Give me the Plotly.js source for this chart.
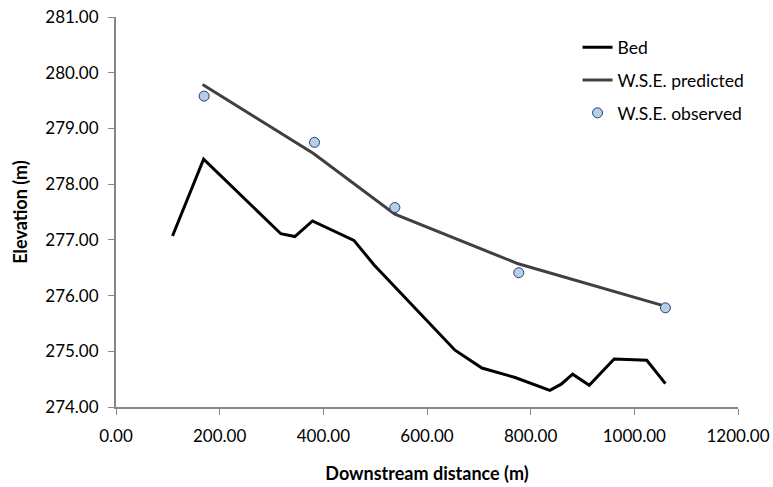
<!DOCTYPE html>
<html>
<head>
<meta charset="utf-8">
<script src="https://cdn.plot.ly/plotly-3.0.1.min.js"></script>
<style>html,body{margin:0;padding:0;background:#fff}#chart{width:773px;height:487px}</style>
</head>
<body>
<div id="chart"></div>
<script>
var bedX = [109, 169, 318, 345, 379, 459, 498, 654, 706, 770, 837, 859, 881, 913, 961, 1024, 1060];
var bedY = [277.07, 278.45, 277.11, 277.06, 277.34, 276.99, 276.55, 275.02, 274.70, 274.53, 274.30, 274.41, 274.59, 274.39, 274.86, 274.84, 274.42];
var predX = [167, 381, 538, 776, 1059];
var predY = [279.79, 278.55, 277.46, 276.57, 275.81];
var obsX = [170, 383, 538, 777, 1060];
var obsY = [279.58, 278.75, 277.58, 276.41, 275.78];
var xTicks = [0, 200, 400, 600, 800, 1000, 1200];
var yTicks = [274, 275, 276, 277, 278, 279, 280, 281];

var font = "Lato, 'Open Sans', sans-serif";
var traces = [
  {x: bedX, y: bedY, mode: 'lines', name: 'Bed', legendgroup: 'a',
   line: {color: '#000000', width: 3}},
  {x: predX, y: predY, mode: 'lines', name: 'W.S.E. predicted', legendgroup: 'b',
   line: {color: '#404040', width: 3}},
  {x: obsX, y: obsY, mode: 'markers', name: 'W.S.E. observed', legendgroup: 'c',
   marker: {symbol: 'circle', size: 10, color: '#b9cde5', line: {color: '#1f3f7f', width: 1}}}
];
var layout = {
  width: 773, height: 487,
  margin: {l: 116, r: 35, t: 17, b: 80},
  paper_bgcolor: '#ffffff', plot_bgcolor: '#ffffff',
  font: {family: font, size: 17, color: '#000000'},
  showlegend: true,
  legend: {x: 0.742, y: 0.968, xanchor: 'left', yanchor: 'top', bgcolor: 'rgba(0,0,0,0)',
           font: {family: font, size: 17.5, color: '#000'}, tracegroupgap: 7, traceorder: 'grouped'},
  xaxis: {
    range: [0, 1200], tickvals: xTicks, ticktext: xTicks.map(function(v){return v.toFixed(2);}),
    showgrid: false, zeroline: false, showline: true, linecolor: '#868686', linewidth: 2,
    ticks: 'outside', ticklen: 6, tickcolor: '#868686', tickwidth: 1, ticklabelstandoff: 7,
    tickfont: {family: font, size: 17, color: '#000'},
    title: {text: '<b>Downstream distance (m)</b>', font: {family: font, size: 18, color: '#000'}, standoff: 22}
  },
  yaxis: {
    range: [274, 281], tickvals: yTicks, ticktext: yTicks.map(function(v){return v.toFixed(2);}),
    showgrid: false, zeroline: false, showline: true, linecolor: '#868686', linewidth: 2,
    ticks: 'outside', ticklen: 6, tickcolor: '#868686', tickwidth: 1, ticklabelstandoff: 6,
    tickfont: {family: font, size: 17, color: '#000'},
    title: {text: '<b>Elevation (m)</b>', font: {family: font, size: 18, color: '#000'}, standoff: 13}
  }
};
Plotly.newPlot('chart', traces, layout, {displayModeBar: false, staticPlot: true});
</script>
</body>
</html>
